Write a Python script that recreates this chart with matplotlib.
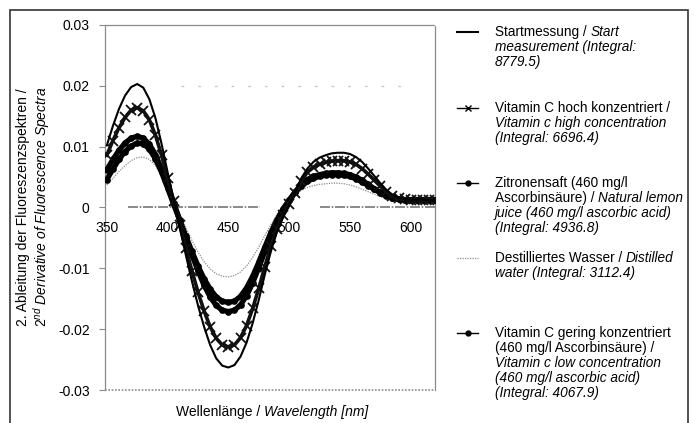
import matplotlib
matplotlib.use("Agg")
import matplotlib.pyplot as plt
from matplotlib.lines import Line2D
from matplotlib.patches import Rectangle
from matplotlib.offsetbox import TextArea, HPacker, AnchoredOffsetbox

plt.rcParams['font.family'] = ['Liberation Sans', 'DejaVu Sans']
plt.rcParams['mathtext.fontset'] = 'custom'
plt.rcParams['mathtext.rm'] = 'Liberation Sans'
plt.rcParams['mathtext.it'] = 'Liberation Sans:italic'

# ---- data ----
wavelength = list(range(350, 621, 5))

start = [0.0102, 0.0134, 0.0162, 0.0184, 0.0198, 0.0203, 0.0197, 0.0178, 0.0147, 0.0105,
         0.0058, 0.0013, -0.0033, -0.0078, -0.0121, -0.0161, -0.0196, -0.0226, -0.0248, -0.0260,
         -0.0263, -0.0259, -0.0245, -0.0222, -0.0190, -0.0152, -0.0110, -0.0072, -0.0040, -0.0016,
         0.0004, 0.0025, 0.0048, 0.0064, 0.0075, 0.0082, 0.0086, 0.0089, 0.0090, 0.0090,
         0.0088, 0.0083, 0.0075, 0.0064, 0.0052, 0.0040, 0.0029, 0.0021, 0.0016, 0.0014,
         0.0013, 0.0013, 0.0013, 0.0012, 0.0012]

vitc_high = [0.0086, 0.0110, 0.0131, 0.0148, 0.0160, 0.0164, 0.0159, 0.0144, 0.0119, 0.0086,
             0.0048, 0.0010, -0.0029, -0.0067, -0.0104, -0.0139, -0.0170, -0.0196, -0.0215, -0.0226,
             -0.0229, -0.0226, -0.0214, -0.0194, -0.0166, -0.0133, -0.0097, -0.0063, -0.0035, -0.0013,
             0.0005, 0.0024, 0.0044, 0.0058, 0.0066, 0.0071, 0.0074, 0.0076, 0.0077, 0.0077,
             0.0075, 0.0071, 0.0064, 0.0055, 0.0045, 0.0035, 0.0026, 0.0019, 0.0015, 0.0014,
             0.0013, 0.0013, 0.0013, 0.0013, 0.0013]

lemon = [0.0062, 0.0079, 0.0094, 0.0106, 0.0114, 0.0117, 0.0114, 0.0104, 0.0087, 0.0063,
         0.0036, 0.0008, -0.0021, -0.0050, -0.0078, -0.0104, -0.0128, -0.0147, -0.0161, -0.0169,
         -0.0171, -0.0169, -0.0160, -0.0145, -0.0124, -0.0099, -0.0072, -0.0046, -0.0023, -0.0004,
         0.0012, 0.0026, 0.0038, 0.0046, 0.0051, 0.0054, 0.0056, 0.0057, 0.0057, 0.0056,
         0.0054, 0.0050, 0.0045, 0.0038, 0.0031, 0.0025, 0.0020, 0.0016, 0.0014, 0.0013,
         0.0013, 0.0013, 0.0013, 0.0013, 0.0013]

water = [0.0037, 0.0048, 0.0059, 0.0069, 0.0077, 0.0082, 0.0083, 0.0079, 0.0069, 0.0053,
         0.0033, 0.0011, -0.0011, -0.0033, -0.0054, -0.0073, -0.0089, -0.0101, -0.0109, -0.0113,
         -0.0114, -0.0112, -0.0106, -0.0096, -0.0082, -0.0065, -0.0046, -0.0028, -0.0012, 0.0001,
         0.0012, 0.0021, 0.0028, 0.0033, 0.0036, 0.0038, 0.0039, 0.0040, 0.0040, 0.0039,
         0.0037, 0.0034, 0.0030, 0.0026, 0.0022, 0.0018, 0.0015, 0.0012, 0.0010, 0.0009,
         0.0008, 0.0008, 0.0008, 0.0008, 0.0008]

vitc_low = [0.0046, 0.0063, 0.0079, 0.0092, 0.0101, 0.0106, 0.0105, 0.0096, 0.0080, 0.0058,
            0.0032, 0.0005, -0.0021, -0.0047, -0.0072, -0.0096, -0.0117, -0.0134, -0.0147, -0.0154,
            -0.0156, -0.0154, -0.0146, -0.0132, -0.0113, -0.0090, -0.0065, -0.0041, -0.0020, -0.0002,
            0.0012, 0.0025, 0.0035, 0.0043, 0.0048, 0.0051, 0.0053, 0.0054, 0.0054, 0.0053,
            0.0051, 0.0047, 0.0042, 0.0036, 0.0030, 0.0024, 0.0019, 0.0016, 0.0014, 0.0013,
            0.0013, 0.0013, 0.0013, 0.0013, 0.0013]

x_ticks = [350, 400, 450, 500, 550, 600]
y_ticks = [-0.03, -0.02, -0.01, 0, 0.01, 0.02, 0.03]
y_tick_labels = ['-0.03', '-0.02', '-0.01', '0', '0.01', '0.02', '0.03']

# legend text: list of lines, each a list of (text, italic?) segments
legend_labels = [
    [[("Startmessung / ", False), ("Start", True)],
     [("measurement (Integral:", True)],
     [("8779.5)", True)]],
    [[("Vitamin C hoch konzentriert /", False)],
     [("Vitamin c high concentration", True)],
     [("(Integral: 6696.4)", True)]],
    [[("Zitronensaft (460 mg/l", False)],
     [("Ascorbinsäure) / ", False), ("Natural lemon", True)],
     [("juice (460 mg/l ascorbic acid)", True)],
     [("(Integral: 4936.8)", True)]],
    [[("Destilliertes Wasser / ", False), ("Distilled", True)],
     [("water (Integral: 3112.4)", True)]],
    [[("Vitamin C gering konzentriert", False)],
     [("(460 mg/l Ascorbinsäure) /", False)],
     [("Vitamin c low concentration", True)],
     [("(460 mg/l ascorbic acid)", True)],
     [("(Integral: 4067.9)", True)]],
]

# ---- figure ----
W, H = 694, 423
fig = plt.figure(figsize=(W / 100, H / 100), dpi=100)

def fx(px):
    return px / W

def fy(py):
    return 1 - py / H

ax = fig.add_axes([fx(105), fy(390), fx(435) - fx(105), fy(25) - fy(390)])
ax.set_xlim(348.5, 620)
ax.set_ylim(-0.03, 0.03)

grey = '#8a8a8a'
for s in ['left', 'right', 'top']:
    ax.spines[s].set_color(grey)
    ax.spines[s].set_linestyle((0, (1, 1)))
    ax.spines[s].set_linewidth(0.9)
ax.spines['bottom'].set_visible(False)
ax.axhline(-0.03, color=grey, lw=1.2, ls=(0, (1, 1)), clip_on=False)

# zero line
ax.axhline(0, xmin=0.07, xmax=0.47, color='#777777', lw=1.2, ls=(0, (6, 1, 1, 1)), zorder=1)
ax.axhline(0, xmin=0.65, xmax=1.0, color='#777777', lw=1.2, ls=(0, (6, 1, 1, 1)), zorder=1)
# faint residual gridline
ax.axhline(0.02, xmin=0.23, xmax=0.92, color='#c8c8c8', lw=1.0, ls=(0, (2, 10)), zorder=1)

# curves
ax.plot(wavelength, water, color='#8c8c8c', lw=0.9, ls=(0, (1, 1)), zorder=2)
ax.plot(wavelength, vitc_low, color='black', lw=3.8, marker='o', ms=3.8, zorder=3)
ax.plot(wavelength, lemon, color='black', lw=3.8, marker='o', ms=3.8, zorder=3)
ax.plot(wavelength, vitc_high, color='#111111', lw=2.6, marker='x', ms=6.5, mew=1.3, zorder=4)
ax.plot(wavelength, start, color='black', lw=1.5, zorder=5)

# ticks: x labels sit just under the zero line
ax.set_xticks(x_ticks)
ax.tick_params(axis='x', length=0, labelbottom=False)
for t in x_ticks:
    ax.annotate(str(t), xy=(t, 0), xytext=(0, -10), textcoords='offset points',
                ha='center', va='top', fontsize=10)
ax.set_yticks(y_ticks)
ax.set_yticklabels(y_tick_labels, fontsize=10)
ax.tick_params(axis='y', length=4, width=0.8, color=grey, pad=7)

# axis labels
fig.text(fx(34), fy(207), "2. Ableitung der Fluoreszenzspektren /\n$\\mathit{2^{nd}\\ Derivative\\ of\\ Fluorescence\\ Spectra}$",
         rotation=90, ha='center', va='center', multialignment='center', fontsize=10,
         linespacing=1.1)

FS = 9.8

def seg_line(segs, fs):
    kids = [TextArea(t, textprops=dict(fontsize=fs, fontstyle='italic' if it else 'normal'))
            for t, it in segs]
    if len(kids) == 1:
        return kids[0]
    return HPacker(children=kids, pad=0, sep=0, align='baseline')

xl = seg_line([("Wellenlänge / ", False), ("Wavelength [nm]", True)], 10)
fig.add_artist(AnchoredOffsetbox(loc='center', child=xl, pad=0, borderpad=0, frameon=False,
                                 bbox_to_anchor=(fx(272), fy(412)),
                                 bbox_transform=fig.transFigure))

# legend (manual)
handle_styles = [
    dict(color='black', lw=1.5),
    dict(color='black', lw=1.0, marker='x', ms=4, mew=1.0, markevery=[1]),
    dict(color='black', lw=1.0, marker='o', ms=3.5, markevery=[1]),
    dict(color='#8c8c8c', lw=0.9, ls=(0, (1, 1))),
    dict(color='black', lw=1.0, marker='o', ms=3.5, markevery=[1]),
]
handle_y = [32, 108, 183, 258, 333]
PITCH = 15
for lines, st, hy in zip(legend_labels, handle_styles, handle_y):
    fig.add_artist(Line2D([fx(457), fx(467.5), fx(478)], [fy(hy)] * 3,
                          transform=fig.transFigure, **st))
    for i, l in enumerate(lines):
        fig.add_artist(AnchoredOffsetbox(loc='center left', child=seg_line(l, FS), pad=0,
                                         borderpad=0, frameon=False,
                                         bbox_to_anchor=(fx(495), fy(hy + PITCH * i)),
                                         bbox_transform=fig.transFigure))

# outer border
fig.add_artist(Rectangle((fx(10), -0.05), fx(688) - fx(10), fy(10) + 0.05,
                         transform=fig.transFigure, fill=False, edgecolor='#333333', lw=1.2))

fig.savefig('out.png', dpi=100)
